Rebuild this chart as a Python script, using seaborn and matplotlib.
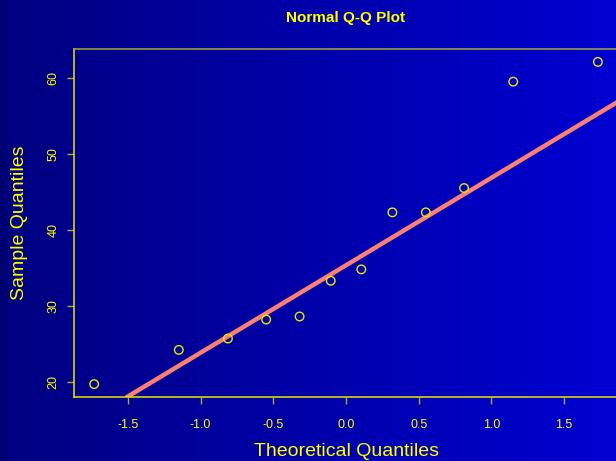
import numpy as np
import pandas as pd
import matplotlib
matplotlib.use("Agg")
import matplotlib.pyplot as plt
import seaborn as sns

# ---- data ----
theoretical = [-1.732, -1.150, -0.812, -0.549, -0.319, -0.105,
               0.105, 0.319, 0.549, 0.812, 1.150, 1.732]
sample = [19.7, 24.2, 25.7, 28.2, 28.6, 33.3,
          34.8, 42.3, 42.3, 45.5, 59.5, 62.1]
xticks = [-1.5, -1.0, -0.5, 0.0, 0.5, 1.0, 1.5]
yticks = [20, 30, 40, 50, 60]
title = "Normal Q-Q Plot"
xlabel = "Theoretical Quantiles"
ylabel = "Sample Quantiles"

sns.set_style("white")
plt.rcParams['font.family'] = ['Liberation Sans', 'DejaVu Sans']

W, H = 616, 461
fig = plt.figure(figsize=(W / 100, H / 100), dpi=100)

# background gradient
bg = fig.add_axes([0, 0, 1, 1], zorder=0)
xs = np.arange(W)
blue = 0x80 + (0xD2 - 0x80) * xs / (W - 1)
blue[xs < 7] = 0x72
img = np.zeros((2, W, 3))
img[..., 2] = blue / 255.0
bg.imshow(img, aspect='auto', extent=[0, 1, 0, 1], interpolation='bilinear')
bg.set_axis_off()

yellow = '#ffff00'
olive = '#a8a83a'
ax = fig.add_axes([74 / W, (H - 397) / H, 544 / W, 348 / H], zorder=1)
ax.set_facecolor('none')

df = pd.DataFrame({'x': theoretical, 'y': sample})
sns.scatterplot(data=df, x='x', y='y', ax=ax, marker='o', s=38,
                facecolor='none', edgecolor='#e8e800', linewidth=1.0, zorder=3)

# qq line through quartiles
q1, q3 = np.quantile(sample, [0.25, 0.75])
zq = 0.6745
slope = (q3 - q1) / (2 * zq)
intercept = (q1 + q3) / 2
ax.axline((0, intercept), slope=slope, color='#fa8072', lw=3.2, zorder=2)

xr = max(theoretical) - min(theoretical)
yr = max(sample) - min(sample)
ax.set_xlim(min(theoretical) - 0.04 * xr, max(theoretical) + 0.04 * xr)
ax.set_ylim(min(sample) - 0.04 * yr, max(sample) + 0.04 * yr)

ax.set_xticks(xticks)
ax.set_xticklabels([f"{v:.1f}" for v in xticks])
ax.set_yticks(yticks)
ax.set_yticklabels([str(v) for v in yticks], rotation=90, va='center')
ax.tick_params(axis='both', which='major', bottom=True, left=True,
               top=False, right=False, direction='out', length=5.2, width=1.0,
               color=olive, labelcolor=yellow, labelsize=9)
ax.tick_params(axis='x', pad=10.3)
ax.tick_params(axis='y', pad=5.3)
ax.set_xlabel('')
ax.set_ylabel('')

for side in ['left', 'bottom']:
    ax.spines[side].set_color('#e6e600')
    ax.spines[side].set_linewidth(1.1)
ax.spines['top'].set_color(olive)
ax.spines['top'].set_linewidth(1.1)
ax.spines['right'].set_visible(False)

fig.text(346 / W, 1 - 18 / H, title, color=yellow, fontsize=11,
         fontweight='bold', ha='center', va='center')
fig.text(346 / W, 1 - 451 / H, xlabel, color=yellow, fontsize=14,
         ha='center', va='center')
fig.text(19.5 / W, 1 - 223 / H, ylabel, color=yellow, fontsize=14,
         ha='center', va='center', rotation=90)

fig.savefig('out.png', dpi=100)
